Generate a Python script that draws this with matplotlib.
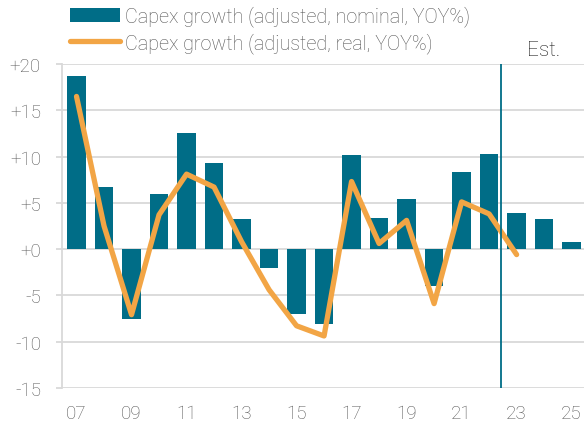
import numpy as np
import matplotlib
matplotlib.use('Agg')
import matplotlib.pyplot as plt
from matplotlib.lines import Line2D
from matplotlib.patches import Patch

years = list(range(2007, 2026))
nominal = [18.7, 6.7, -7.6, 5.9, 12.5, 9.3, 3.2, -2.0, -7.0, -8.1,
           10.2, 3.4, 5.4, -4.0, 8.3, 10.3, 3.9, 3.2, 0.8]
real_years = list(range(2007, 2024))
real = [16.5, 2.5, -7.1, 3.7, 8.1, 6.7, 0.8, -4.4, -8.3, -9.4,
        7.3, 0.6, 3.1, -5.9, 5.1, 3.8, -0.6]
xtick_years = list(range(2007, 2026, 2))
yticks = [-15, -10, -5, 0, 5, 10, 15, 20]
est_pos = 2022.42

bar_color = '#006D87'
line_color = '#F2A545'
grid_color = '#D9D9D9'
text_color = '#555555'

plt.rcParams['font.family'] = ['Roboto', 'DejaVu Sans']
plt.rcParams['font.weight'] = 'light'

fig = plt.figure(figsize=(5.84, 4.31), dpi=100)
ax = fig.add_axes([0.107, 0.098, 0.893, 0.751])

ax.bar(years, nominal, width=0.68, color=bar_color, zorder=2)
ax.plot(real_years, real, color=line_color, lw=3.8, solid_capstyle='round',
        solid_joinstyle='round', zorder=3)
ax.axvline(est_pos, color=bar_color, lw=1.3, zorder=4)

ax.set_xlim(2006.49, 2025.45)
ax.set_ylim(-15, 20)
ax.set_yticks(yticks)
ax.set_yticklabels([('+%d' % v) if v >= 0 else '%d' % v for v in yticks])
ax.set_xticks(xtick_years)
ax.set_xticklabels(['%02d' % (y % 100) for y in xtick_years])

ax.grid(axis='y', color=grid_color, lw=1.3, zorder=0)
for s in ['top', 'right', 'bottom']:
    ax.spines[s].set_visible(False)
ax.spines['left'].set_color(grid_color)
ax.spines['left'].set_linewidth(1.3)
ax.tick_params(axis='y', length=4.5, width=1.3, color=grid_color,
               labelsize=13.5, labelcolor=text_color, pad=11)
ax.tick_params(axis='x', length=0, labelsize=13.5, labelcolor=text_color, pad=12)

handles = [Patch(facecolor=bar_color, edgecolor='none'),
           Line2D([0], [0], color=line_color, lw=3.8, solid_capstyle='round')]
labels = ['Capex growth (adjusted, nominal, YOY%)',
          'Capex growth (adjusted, real, YOY%)']
fig.legend(handles, labels, loc='upper left', bbox_to_anchor=(0.107, 1.003),
           frameon=False, fontsize=14.2, labelcolor=text_color,
           handlelength=2.5, handletextpad=0.27, labelspacing=0.28,
           borderaxespad=0)

fig.text(0.902, 0.882, 'Est.', fontsize=15, color='#1A1A1A', va='center')

fig.savefig('out.png', dpi=100)
